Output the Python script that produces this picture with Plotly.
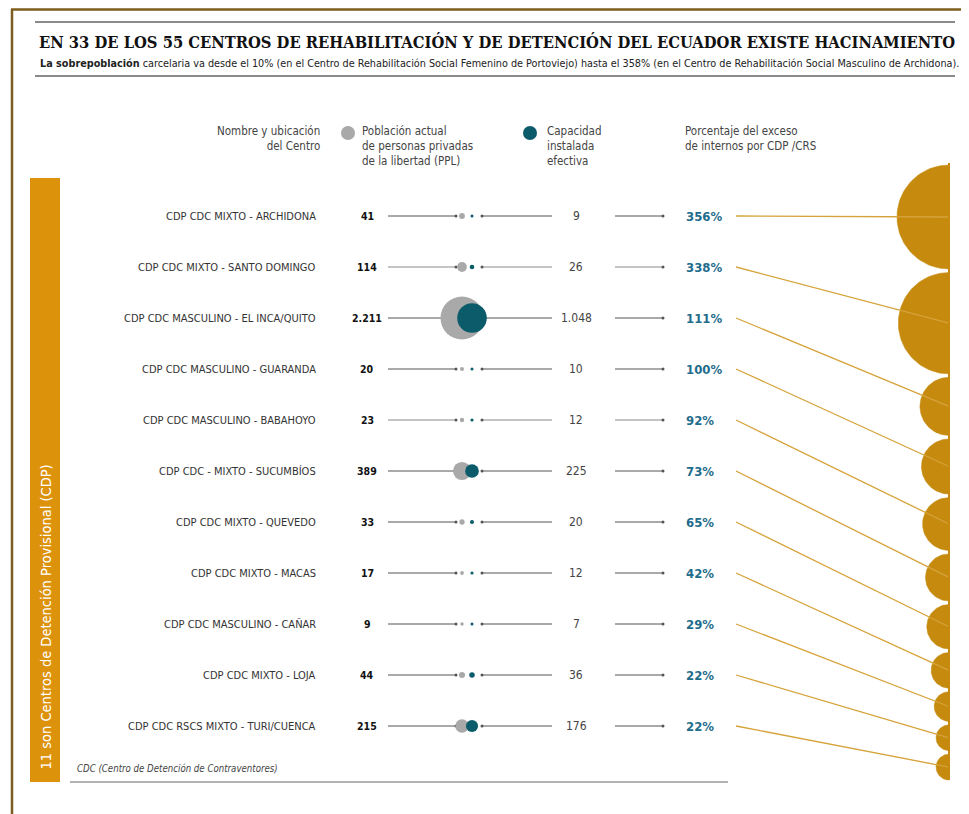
import numpy as np
import plotly.graph_objects as go

# ---------------- data ----------------
names = ["CDP CDC MIXTO - ARCHIDONA", "CDP CDC MIXTO - SANTO DOMINGO",
         "CDP CDC MASCULINO - EL INCA/QUITO", "CDP CDC MASCULINO - GUARANDA",
         "CDP CDC MASCULINO - BABAHOYO", "CDP CDC - MIXTO - SUCUMBÍOS",
         "CDP CDC MIXTO - QUEVEDO", "CDP CDC MIXTO - MACAS",
         "CDP CDC MASCULINO - CAÑAR", "CDP CDC MIXTO - LOJA",
         "CDP CDC RSCS MIXTO - TURI/CUENCA"]
ppl = [41, 114, 2211, 20, 23, 389, 33, 17, 9, 44, 215]
capacity = [9, 26, 1048, 10, 12, 225, 20, 12, 7, 36, 176]
excess_pct = [356, 338, 111, 100, 92, 73, 65, 42, 29, 22, 22]
light_rows = [1, 4]

title = "EN 33 DE LOS 55 CENTROS DE REHABILITACIÓN Y DE DETENCIÓN DEL ECUADOR EXISTE HACINAMIENTO"
subtitle = ("<b>La sobrepoblación</b> carcelaria va desde el 10% (en el Centro de Rehabilitación Social "
            "Femenino de Portoviejo) hasta el 358% (en el Centro de Rehabilitación Social Masculino de Archidona).")

# ---------------- layout constants ----------------
W, H = 969, 814
OFF = 8  # page body margin
ROW0, STEP = 216, 51
NARROW = "Liberation Sans Narrow, DejaVu Sans Condensed, Arial Narrow, sans-serif"
GRAY_C, TEAL_C = "#a9a9a9", "#0b5b6b"
GOLD, GOLD_LINE = "#c58a0e", "#d6a33a"
PCT_C = "#1f6d8c"

def fmt(v):
    return f"{v:,}".replace(",", ".")

rows_y = [ROW0 + i * STEP for i in range(len(names))]

fig = go.Figure()
shapes, ann = [], []

# frame
shapes.append(dict(type="line", x0=11, x1=W, y0=9.5, y1=9.5, line=dict(color="#7d5c1f", width=2.5)))
shapes.append(dict(type="line", x0=12, x1=12, y0=9, y1=H, line=dict(color="#7d5c1f", width=2.5)))
# rules
shapes.append(dict(type="line", x0=35, x1=955, y0=22, y1=22, line=dict(color="#8a8a8a", width=2)))
shapes.append(dict(type="line", x0=35, x1=955, y0=76, y1=76, line=dict(color="#8a8a8a", width=2)))
shapes.append(dict(type="line", x0=70, x1=728, y0=782, y1=782, line=dict(color="#999999", width=1.5)))
# side bar
shapes.append(dict(type="rect", x0=30, x1=60, y0=178, y1=782, fillcolor="#dd920c", line=dict(width=0), layer="below"))

# title / subtitle
ann.append(dict(x=37, y=42, text=f"<b>{title}</b>", showarrow=False, xanchor="left", yanchor="middle",
                font=dict(family="DejaVu Serif Condensed, DejaVu Serif, serif", size=16.4, color="#111")))
ann.append(dict(x=38, y=63, text=subtitle, showarrow=False, xanchor="left", yanchor="middle",
                font=dict(family=NARROW, size=10.75, color="#222")))

# headers
hfont = dict(family=NARROW, size=11.5, color="#444")
ann.append(dict(x=322, y=138, text="Nombre y ubicación<br>del Centro", showarrow=False, xanchor="right",
                yanchor="middle", align="right", font=hfont))
ann.append(dict(x=360, y=146, text="Población actual<br>de personas privadas<br>de la libertad (PPL)",
                showarrow=False, xanchor="left", yanchor="middle", align="left", font=hfont))
ann.append(dict(x=545, y=146, text="Capacidad<br>instalada<br>efectiva", showarrow=False, xanchor="left",
                yanchor="middle", align="left", font=hfont))
ann.append(dict(x=683, y=138, text="Porcentaje del exceso<br>de internos por CDP /CRS", showarrow=False,
                xanchor="left", yanchor="middle", align="left", font=hfont))
fig.add_trace(go.Scatter(x=[348, 530], y=[133, 133], mode="markers",
                         marker=dict(size=[14, 14], color=[GRAY_C, TEAL_C], opacity=1, line=dict(width=0)),
                         showlegend=False, hoverinfo="skip"))

# side bar text
ann.append(dict(x=45, y=772, text="11 son Centros de Detención Provisional (CDP)", textangle=-90,
                showarrow=False, xanchor="center", yanchor="bottom",
                font=dict(family=NARROW, size=14.5, color="white")))
# footnote
ann.append(dict(x=75, y=768, text="<i>CDC (Centro de Detención de Contraventores)</i>", showarrow=False,
                xanchor="left", yanchor="middle", font=dict(family=NARROW, size=9.6, color="#444")))

# rows: connector lines
for i, y in enumerate(rows_y):
    light = i in light_rows
    col = "#c4c4c4" if light else "#555555"
    wd = 2.2 if light else 1
    fig.add_trace(go.Scatter(x=[388, 456], y=[y, y], mode="lines", line=dict(color=col, width=wd),
                             showlegend=False, hoverinfo="skip"))
    fig.add_trace(go.Scatter(x=[482, 552], y=[y, y], mode="lines", line=dict(color=col, width=wd),
                             showlegend=False, hoverinfo="skip"))
    fig.add_trace(go.Scatter(x=[615, 663], y=[y, y], mode="lines", line=dict(color=col, width=wd),
                             showlegend=False, hoverinfo="skip"))
fig.add_trace(go.Scatter(x=[456] * len(rows_y) + [482] * len(rows_y) + [663] * len(rows_y),
                         y=rows_y * 3, mode="markers", marker=dict(size=3, color="#555", opacity=1),
                         showlegend=False, hoverinfo="skip"))

# bubbles (area-proportional)
RMAX = 21.5
vmax = max(ppl)
g_size = [max(3.5, 2 * RMAX * np.sqrt(v / vmax)) for v in ppl]
t_size = [max(3, 2 * RMAX * np.sqrt(v / vmax)) for v in capacity]
fig.add_trace(go.Scatter(x=[462] * len(ppl), y=rows_y, mode="markers",
                         marker=dict(size=g_size, color=GRAY_C, opacity=1, line=dict(width=0)),
                         showlegend=False, hoverinfo="skip"))
fig.add_trace(go.Scatter(x=[472] * len(capacity), y=rows_y, mode="markers",
                         marker=dict(size=t_size, color=TEAL_C, opacity=1, line=dict(width=0)),
                         showlegend=False, hoverinfo="skip"))

# texts per row
for i, y in enumerate(rows_y):
    ann.append(dict(x=318, y=y, text=names[i], showarrow=False, xanchor="right", yanchor="middle",
                    font=dict(family=NARROW, size=11, color="#333")))
    ann.append(dict(x=367, y=y, text=f"<b>{fmt(ppl[i])}</b>", showarrow=False, xanchor="center",
                    yanchor="middle", font=dict(family=NARROW, size=10.5, color="#111")))
    ann.append(dict(x=576, y=y, text=fmt(capacity[i]), showarrow=False, xanchor="center",
                    yanchor="middle", font=dict(family=NARROW, size=12, color="#444")))
    ann.append(dict(x=684, y=y, text=f"<b>{excess_pct[i]}%</b>", showarrow=False, xanchor="left",
                    yanchor="middle", font=dict(family=NARROW, size=13, color=PCT_C)))

# semicircles stacked along right baseline (area-proportional)
BX = 949
R1 = 52
pmax = max(excess_pct)
radii = [R1 * np.sqrt(p / pmax) for p in excess_pct]
centers = []
top = 165
for r in radii:
    centers.append(top + r)
    top += 2 * r + 3.5
th = np.linspace(np.pi / 2, 3 * np.pi / 2, 60)
for r, c in zip(radii, centers):
    xs = list(BX + r * np.cos(th))
    ys = list(c - r * np.sin(th))
    fig.add_trace(go.Scatter(x=xs, y=ys, mode="lines", fill="toself", fillcolor=GOLD,
                             line=dict(color=GOLD, width=0.5), showlegend=False, hoverinfo="skip"))
shapes.append(dict(type="line", x0=BX, x1=BX, y0=163, y1=780, line=dict(color=GOLD, width=2)))

# connectors from labels to semicircles
for y, c in zip(rows_y, centers):
    fig.add_trace(go.Scatter(x=[736, BX], y=[y, c], mode="lines", line=dict(color=GOLD_LINE, width=1.3),
                             showlegend=False, hoverinfo="skip"))

fig.update_layout(
    width=W - OFF, height=H - OFF, autosize=False,
    margin=dict(l=0, r=0, t=0, b=0, pad=0),
    paper_bgcolor="white", plot_bgcolor="white",
    xaxis=dict(range=[OFF, W], visible=False, fixedrange=True),
    yaxis=dict(range=[H, OFF], visible=False, fixedrange=True),
    shapes=shapes, annotations=ann,
)
fig.write_html("out.html")
